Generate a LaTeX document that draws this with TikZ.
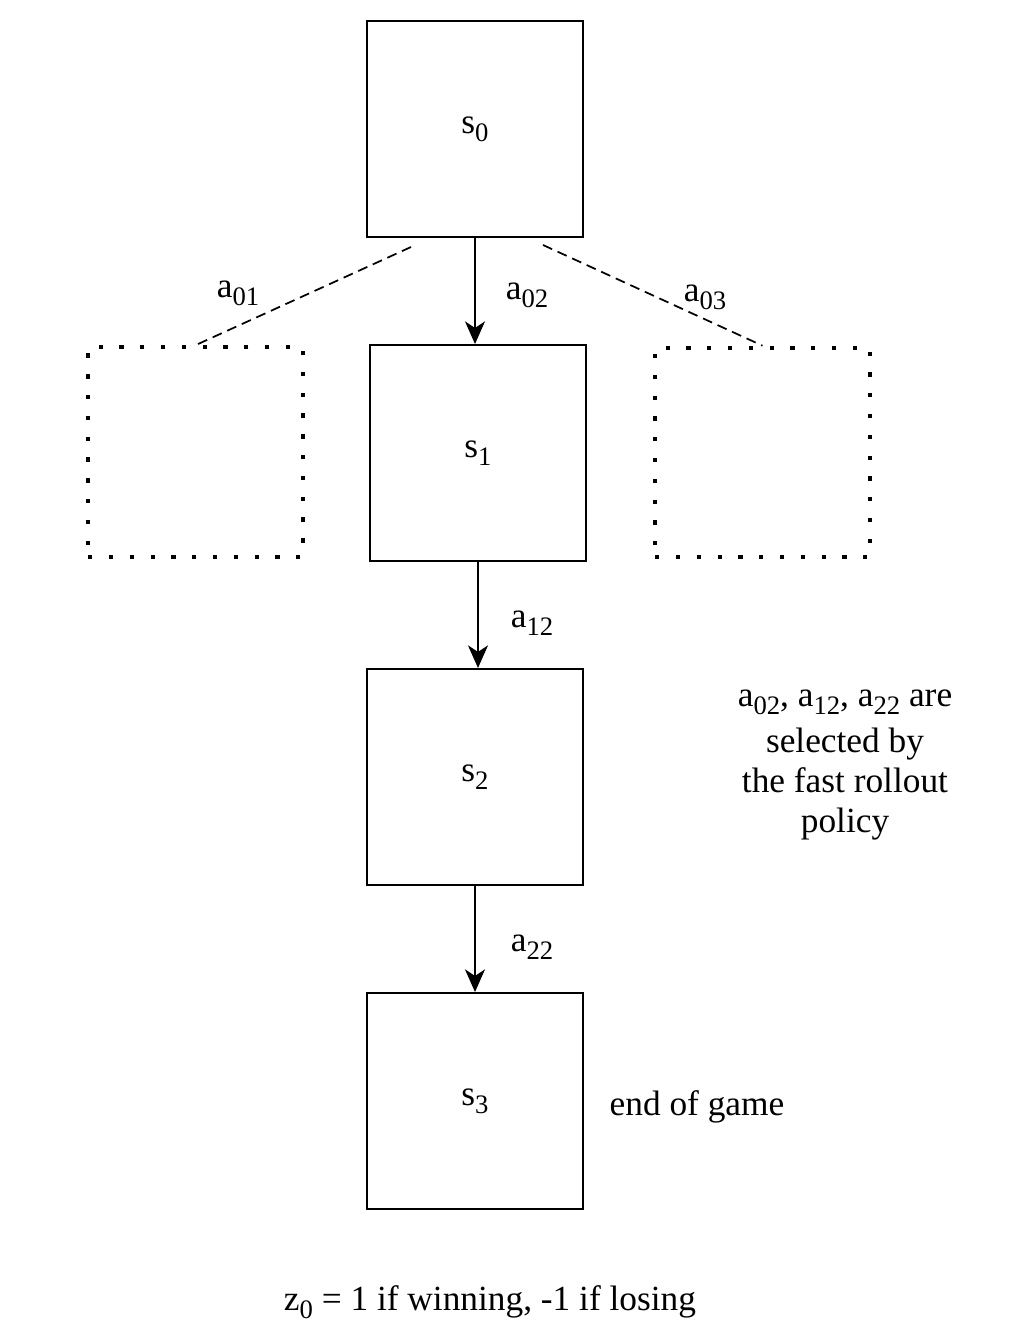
\documentclass[tikz,border=0pt]{standalone}
\usepackage{fontspec}
\setmainfont{Liberation Serif}
\usetikzlibrary{arrows.meta}
\newcommand\subt[1]{\raisebox{-0.22em}{\fontsize{20}{20}\selectfont #1}}
\tikzset{
  statebox/.style={draw, line width=1.5pt, minimum width=162pt, minimum height=162pt, inner sep=0pt, font=\fontsize{26.5}{30}\selectfont},
  ghostbox/.style={draw, line width=3.2pt, dash pattern=on 3.2pt off 12.4pt, minimum width=161pt, minimum height=157pt, inner sep=0pt},
  flow/.style={line width=1.5pt, -{Stealth[length=17pt,width=15pt,inset=5pt]}},
  alt/.style={line width=1.3pt, dash pattern=on 7.5pt off 4.5pt},
  lbl/.style={font=\fontsize{26.5}{30}\selectfont, inner sep=0pt}
}
\begin{document}
\begin{tikzpicture}[x=0.75pt,y=-0.75pt]
\useasboundingbox (0,0) rectangle (1024,1326);
\node[statebox] (s0) at (475,129) {s\subt{0}};
\node[statebox] (s1) at (478,453) {s\subt{1}};
\node[statebox] (s2) at (475,777) {s\subt{2}};
\node[statebox] (s3) at (475,1101) {s\subt{3}};
\node[ghostbox] (lb) at (195.5,452) {};
\node[ghostbox] (rb) at (762.5,452.5) {};
\coordinate (ls) at (411,247);
\coordinate (rs) at (543,245);
\draw[alt] (ls) -- (lb.north);
\draw[alt] (rs) -- (rb.north);
\draw[flow] (s0.south) -- (s0.south |- s1.north);
\draw[flow] (s1.south) -- (s1.south |- s2.north);
\draw[flow] (s2.south) -- (s2.south |- s3.north);
\node[lbl] (l01) at (238,293) {a\subt{01}};
\node[lbl] (l02) at (527,295) {a\subt{02}};
\node[lbl] (l03) at (705,297) {a\subt{03}};
\node[lbl] (l12) at (532,623) {a\subt{12}};
\node[lbl] (l22) at (532,947) {a\subt{22}};
\node[lbl, align=center] (note) at (845,765) {a\subt{02}, a\subt{12}, a\subt{22} are\\[4pt]selected by\\the fast rollout\\policy};
\node[lbl] (end) at (697,1107) {end of game};
\node[lbl] (z) at (490,1302) {z\subt{0} = 1 if winning, -1 if losing};
\end{tikzpicture}
\end{document}
